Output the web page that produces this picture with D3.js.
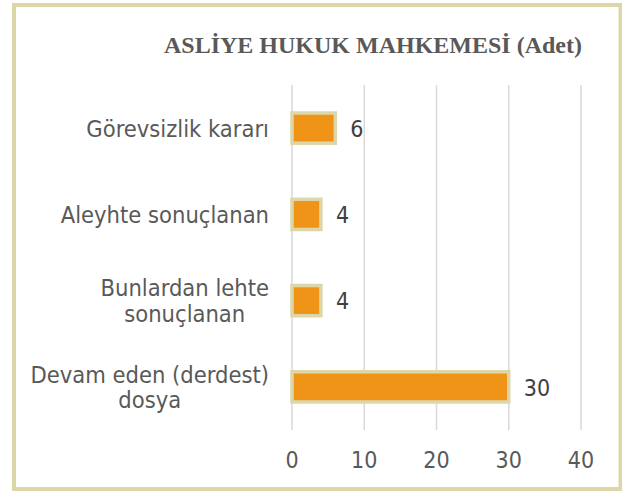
<!DOCTYPE html>
<html>
<head>
<meta charset="utf-8">
<script src="https://cdn.jsdelivr.net/npm/d3@7"></script>
<style>
  body { margin: 0; background: #fff; }
  text { fill: #595959; }
</style>
</head>
<body>
<div id="chart"></div>
<script>
// data
const categories = [['Görevsizlik kararı'], ['Aleyhte sonuçlanan'], ['Bunlardan lehte', 'sonuçlanan'], ['Devam eden (derdest)', 'dosya']];
const values = [6, 4, 4, 30];
const ticks = [0, 10, 20, 30, 40];
const title = 'ASLİYE HUKUK MAHKEMESİ (Adet)';

const width = 622, height = 491;
const margin = { top: 85, left: 292, right: 41, bottom: 61 };
const font = '"DejaVu Sans Condensed", sans-serif';

const svg = d3.select('#chart').append('svg')
    .attr('width', width)
    .attr('height', height);

// outer frame
svg.append('rect')
    .attr('x', 14).attr('y', 5)
    .attr('width', 606.5).attr('height', 484)
    .attr('fill', '#fff')
    .attr('stroke', '#ddd6a8')
    .attr('stroke-width', 4);

svg.append('text')
    .attr('x', 373).attr('y', 53)
    .attr('text-anchor', 'middle')
    .attr('font-family', '"Liberation Serif", serif')
    .attr('font-weight', 'bold')
    .attr('font-size', '24px')
    .text(title);

const x = d3.scaleLinear().domain([0, 40]).range([margin.left, width - margin.right]);
const y = d3.scaleBand().domain(d3.range(categories.length))
    .range([margin.top, height - margin.bottom])
    .paddingInner(0.65)
    .paddingOuter(0.325);

// gridlines
svg.append('g').selectAll('line')
    .data(ticks)
    .join('line')
    .attr('x1', d => x(d)).attr('x2', d => x(d))
    .attr('y1', margin.top).attr('y2', height - margin.bottom)
    .attr('stroke', '#d9d9d9')
    .attr('stroke-width', 1.5);

// tick labels
svg.append('g').selectAll('text')
    .data(ticks)
    .join('text')
    .attr('x', d => x(d))
    .attr('y', 468)
    .attr('text-anchor', 'middle')
    .attr('font-family', font)
    .attr('font-size', '23px')
    .text(d => d);

// bars
svg.append('g').selectAll('rect')
    .data(values)
    .join('rect')
    .attr('x', x(0))
    .attr('y', (d, i) => y(i))
    .attr('width', d => x(d) - x(0))
    .attr('height', y.bandwidth())
    .attr('fill', '#f09418')
    .attr('stroke', '#ddd6a8')
    .attr('stroke-width', 3.5);

// value labels
svg.append('g').selectAll('text')
    .data(values)
    .join('text')
    .attr('x', d => x(d) + 15)
    .attr('y', (d, i) => y(i) + y.bandwidth() / 2 + 8.7)
    .attr('font-family', font)
    .attr('font-size', '23px')
    .style('fill', '#404040')
    .text(d => d);

// category labels
const cat = svg.append('g').selectAll('text')
    .data(categories)
    .join('text')
    .attr('font-family', font)
    .attr('font-size', '23.5px');

cat.each(function (lines, i) {
    const t = d3.select(this);
    const cy = y(i) + y.bandwidth() / 2;
    const lh = 25.5;
    const y0 = cy + 8.5 - (lines.length - 1) * lh / 2;
    lines.forEach((s, k) => {
        t.append('tspan')
            .attr('x', 269)
            .attr('y', y0 + k * lh)
            .attr('text-anchor', 'end')
            .text(s);
    });
});

// center multi-line labels on their widest line
cat.each(function () {
    const spans = d3.select(this).selectAll('tspan');
    if (spans.size() < 2) return;
    const w = d3.max(spans.nodes(), n => n.getComputedTextLength());
    spans.attr('text-anchor', 'middle').attr('x', 269 - w / 2);
});
</script>
</body>
</html>
